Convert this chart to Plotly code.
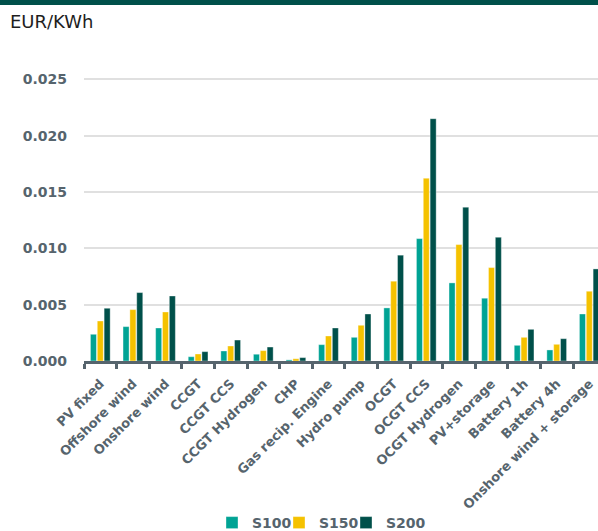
import plotly.graph_objects as go

categories = [
    "PV fixed", "Offshore wind", "Onshore wind", "CCGT", "CCGT CCS",
    "CCGT Hydrogen", "CHP", "Gas recip. Engine", "Hydro pump", "OCGT",
    "OCGT CCS", "OCGT Hydrogen", "PV+storage", "Battery 1h", "Battery 4h",
    "Onshore wind + storage",
]
s100 = [0.00237, 0.00305, 0.00293, 0.00038, 0.00089, 0.00060, 0.00010, 0.00145,
        0.00210, 0.00471, 0.01086, 0.00693, 0.00557, 0.00139, 0.00098, 0.00417]
s150 = [0.00355, 0.00456, 0.00435, 0.00062, 0.00133, 0.00092, 0.00020, 0.00222,
        0.00317, 0.00708, 0.01622, 0.01033, 0.00829, 0.00210, 0.00148, 0.00619]
s200 = [0.00468, 0.00607, 0.00577, 0.00083, 0.00186, 0.00124, 0.00030, 0.00293,
        0.00417, 0.00939, 0.02150, 0.01365, 0.01098, 0.00281, 0.00198, 0.00817]
series = [("S100", s100, "#00a394"), ("S150", s150, "#f5c200"), ("S200", s200, "#00504a")]
y_ticks = [0.0, 0.005, 0.010, 0.015, 0.020, 0.025]

W, H = 598, 531
ML, MT, MB = 84, 68, 170
plot_w = W - ML
plot_h = H - MT - MB


def paper_y(px):
    """Convert a pixel row (from the top of the page) to paper y."""
    return 1 - (px - MT) / plot_h


def paper_x(px):
    return (px - ML) / plot_w


axis_grey = "#56646d"
font_main = "DejaVu Sans"

# one small legend per series so the entries sit at fixed spots along the bottom
legend_ids = ["legend", "legend2", "legend3"]
legend_left = [212, 279, 346]

fig = go.Figure()
for (name, vals, color), lid in zip(series, legend_ids):
    fig.add_trace(go.Bar(
        x=categories, y=vals, name=name, legend=lid,
        marker=dict(color=color, line=dict(color="rgba(255,255,255,0.6)", width=0.6)),
    ))

legend_style = dict(
    orientation="h", xanchor="left", y=paper_y(523), yanchor="middle",
    font=dict(size=14, color=axis_grey, family=font_main, weight="bold"),
    itemwidth=30, bgcolor="rgba(0,0,0,0)", borderwidth=0,
)
legend_layout = {
    lid: dict(legend_style, x=paper_x(left))
    for lid, left in zip(legend_ids, legend_left)
}

fig.update_layout(
    width=W, height=H,
    margin=dict(l=ML, r=0, t=MT, b=MB, pad=0, autoexpand=False),
    paper_bgcolor="white", plot_bgcolor="white",
    barmode="group", bargap=0.37, bargroupgap=0.12,
    font=dict(family=font_main, color=axis_grey),
    showlegend=True,
    xaxis=dict(
        type="category",
        range=[-0.5, 15.5 - (605.6 - W) / 32.6],
        tickangle=-45,
        tickfont=dict(size=13, color=axis_grey, family=font_main, weight="bold"),
        showline=True, linecolor=axis_grey, linewidth=3,
        ticks="outside", tickson="boundaries", ticklen=5, tickwidth=3, tickcolor=axis_grey,
        showgrid=False, ticklabelstandoff=7,
    ),
    yaxis=dict(
        range=[0, 0.026],
        tickvals=y_ticks,
        ticktext=[f"{v:.3f}" for v in y_ticks],
        tickfont=dict(size=14, color=axis_grey, family=font_main, weight="bold"),
        showgrid=True, gridcolor="#e0e0e0", gridwidth=1.5,
        zeroline=False, showline=False, ticks="", ticklabelstandoff=16,
    ),
    annotations=[dict(
        text="EUR/KWh", xref="paper", yref="paper",
        x=paper_x(8), y=paper_y(22),
        xanchor="left", yanchor="middle", showarrow=False,
        font=dict(size=18, color="#1e1e1e", family=font_main),
    )],
    shapes=[dict(
        type="rect", xref="paper", yref="paper", layer="above",
        x0=paper_x(0), x1=1.0, y0=paper_y(5), y1=paper_y(0),
        fillcolor="#00504a", line=dict(width=0),
    )],
    **legend_layout,
)

fig.write_html("out.html")
